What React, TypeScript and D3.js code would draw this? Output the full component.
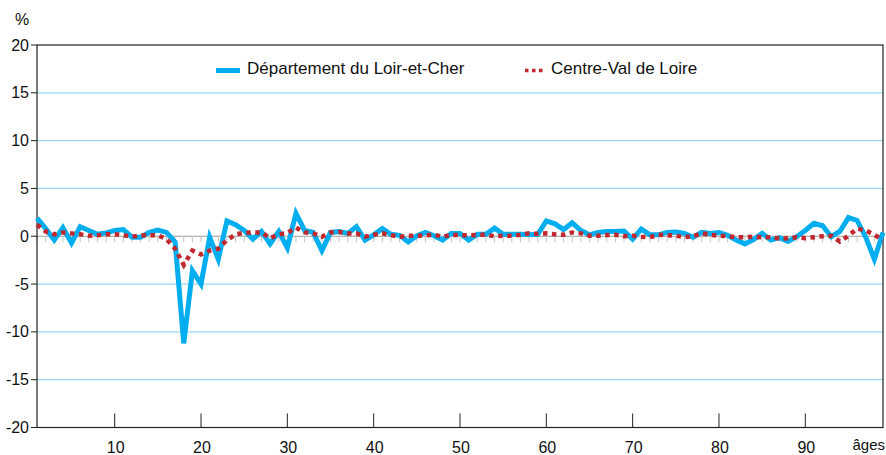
import * as d3 from "d3";

const ages = d3.range(1, 100);

// Département du Loir-et-Cher, ages 1..99 (%)
const loirEtCher = [
  1.9, 0.8, -0.4, 0.9, -0.7, 1.0, 0.6, 0.2, 0.35, 0.6,
  0.7, -0.1, -0.1, 0.4, 0.65, 0.4, -0.6, -11.2, -3.6, -5.0,
  -0.1, -2.4, 1.6, 1.2, 0.6, -0.3, 0.5, -0.8, 0.5, -1.2,
  2.4, 0.6, 0.4, -1.5, 0.4, 0.5, 0.3, 1.0, -0.4, 0.15,
  0.8, 0.2, 0.1, -0.6, 0.05, 0.4, 0.05, -0.4, 0.3, 0.3,
  -0.4, 0.2, 0.2, 0.85, 0.2, 0.2, 0.2, 0.15, 0.2, 1.6,
  1.3, 0.7, 1.4, 0.6, 0.15, 0.4, 0.5, 0.5, 0.55, -0.3,
  0.75, 0.15, 0.15, 0.4, 0.45, 0.3, -0.1, 0.4, 0.3, 0.4,
  0.1, -0.4, -0.8, -0.35, 0.3, -0.4, -0.15, -0.55, -0.05, 0.6,
  1.35, 1.1, -0.05, 0.5, 1.95, 1.65, -0.1, -2.4, 0.4,
];

// Centre-Val de Loire, ages 1..99 (%)
const centreVal = [
  1.2, 0.5, 0.2, 0.4, 0.3, 0.2, 0.05, 0.1, 0.2, 0.2,
  0.1, -0.05, 0.1, 0.1, 0.1, -0.3, -1.3, -3.0, -1.5, -1.9,
  -1.5, -1.3, -0.4, 0.2, 0.35, 0.4, 0.4, -0.2, 0.2, 0.35,
  0.9, 0.4, 0.3, -0.05, 0.4, 0.45, 0.3, 0.3, -0.05, 0.15,
  0.3, 0.12, -0.05, 0.05, 0.05, 0.1, 0.15, -0.05, 0.15, 0.12,
  0.1, 0.15, 0.15, 0.0, 0.05, 0.05, 0.15, 0.3, 0.25, 0.3,
  0.2, 0.15, 0.4, 0.3, 0.05, 0.05, 0.12, 0.15, 0.0, 0.05,
  -0.05, -0.1, 0.15, 0.12, 0.05, -0.1, 0.0, 0.3, 0.15, 0.05,
  0.0, -0.1, -0.1, -0.05, -0.1, -0.1, -0.25, -0.2, -0.1, -0.2,
  -0.1, 0.0, 0.05, -0.55, 0.05, 0.8, 0.6, 0.15, -0.4,
];

const yTicks = [20, 15, 10, 5, 0, -5, -10, -15, -20];
const xTicks = [10, 20, 30, 40, 50, 60, 70, 80, 90];
const seriesNames = ["Département du Loir-et-Cher", "Centre-Val de Loire"];

const width = 886;
const height = 455;
const left = 37;
const right = 883;
const top = 45;
const bottom = 427.5;

const blue = "#00aeef";
const red = "#c1272d";
const font = "'Liberation Sans', Arial, sans-serif";

export default function App() {
  const x = d3.scaleLinear().domain([1, 99]).range([left, right]);
  const y = d3.scaleLinear().domain([-20, 20]).range([bottom, top]);

  const line = d3
    .line<number>()
    .x((_, i) => x(ages[i]))
    .y((d) => y(d));

  return (
    <svg
      width={width}
      height={height}
      style={{ position: "absolute", left: 0, top: 0, background: "#fff" }}
      fontFamily={font}
    >
      {/* grid */}
      {yTicks
        .filter((t) => t !== 20 && t !== -20 && t !== 0)
        .map((t) => (
          <line
            key={t}
            x1={left}
            x2={right}
            y1={y(t)}
            y2={y(t)}
            stroke="#9ad8f2"
            strokeWidth={1.3}
          />
        ))}
      <line x1={left} x2={right} y1={y(0)} y2={y(0)} stroke="#9a9a9a" strokeWidth={1.2} />
      {ages.map((a) => (
        <line
          key={a}
          x1={x(a)}
          x2={x(a)}
          y1={y(0)}
          y2={y(0) + 6}
          stroke="#c4c4c4"
          strokeWidth={1}
        />
      ))}

      {/* frame */}
      <rect
        x={left}
        y={top}
        width={right - left}
        height={bottom - top}
        fill="none"
        stroke="#222"
        strokeWidth={1.2}
      />

      {/* y axis */}
      {yTicks.map((t) => (
        <g key={t}>
          <line x1={left - 6} x2={left} y1={y(t)} y2={y(t)} stroke="#222" strokeWidth={1} />
          <text
            x={left - 8}
            y={y(t)}
            textAnchor="end"
            dominantBaseline="central"
            fontSize={16}
            fill="#111"
          >
            {t}
          </text>
        </g>
      ))}
      <text x={15} y={25} fontSize={16} fill="#111">
        %
      </text>

      {/* x axis */}
      {xTicks.map((t) => (
        <g key={t}>
          <line x1={x(t)} x2={x(t)} y1={bottom} y2={bottom - 14} stroke="#222" strokeWidth={1} />
          <text x={x(t) + 1} y={453} textAnchor="middle" fontSize={16} fill="#111">
            {t}
          </text>
        </g>
      ))}
      <text x={885} y={450} textAnchor="end" fontSize={15} fill="#111">
        âges
      </text>

      {/* series */}
      <path d={line(loirEtCher)!} fill="none" stroke={blue} strokeWidth={5} strokeLinejoin="miter" />
      <path
        d={line(centreVal)!}
        fill="none"
        stroke={red}
        strokeWidth={4.5}
        strokeDasharray="4.5 4.5"
      />

      {/* legend */}
      <line x1={216} x2={240} y1={70.5} y2={70.5} stroke={blue} strokeWidth={5} />
      <text x={247} y={73.5} fontSize={17} fill="#111">
        {seriesNames[0]}
      </text>
      <line
        x1={525}
        x2={546}
        y1={70.5}
        y2={70.5}
        stroke={red}
        strokeWidth={3.5}
        strokeDasharray="3.5 3.5"
      />
      <text x={551} y={73.5} fontSize={17} fill="#111">
        {seriesNames[1]}
      </text>
    </svg>
  );
}
